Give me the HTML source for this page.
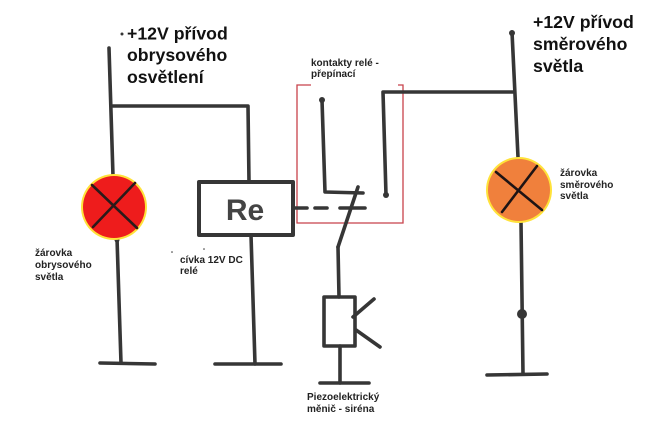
<!DOCTYPE html>
<html><head><meta charset="utf-8"><style>
html,body{margin:0;padding:0;background:#fff;}
svg{display:block;}
text{font-family:"Liberation Sans",Arial,sans-serif;font-weight:bold;}
</style></head><body>
<svg width="651" height="444" viewBox="0 0 651 444" xmlns="http://www.w3.org/2000/svg">
<rect width="651" height="444" fill="#fff"/>
<!-- red contact box -->
<g stroke="#c8424a" stroke-width="1.3" fill="none">
<polyline points="311,85 297,85 297,223 403,223 403,85 398,85"/>
</g>
<g stroke="#363636" stroke-width="3.6" stroke-linecap="round" fill="none" stroke-linejoin="round">
<!-- left supply -->
<line x1="109" y1="48" x2="113" y2="176"/>
<polyline points="113,106 248,106 249,182"/>
<!-- relay box -->
<rect x="199" y="182" width="94" height="53" stroke-width="4"/>
<line x1="251" y1="235" x2="255" y2="364"/>
<line x1="215" y1="364" x2="281" y2="364"/>
<!-- left lamp lower -->
<line x1="117" y1="238" x2="121" y2="363"/>
<line x1="100" y1="363" x2="155" y2="364"/>
<!-- contacts -->
<polyline points="322,100 325,192 363,193"/>
<polyline points="386,195 383,92 513,92"/>
<line x1="512" y1="32" x2="518" y2="157"/>
<!-- dashed -->
<line x1="295" y1="208" x2="307" y2="208"/>
<line x1="315" y1="208" x2="327" y2="208"/>
<line x1="340" y1="208" x2="365" y2="208"/>
<!-- switch arm -->
<line x1="358" y1="187" x2="338" y2="247"/>
<line x1="338" y1="247" x2="339" y2="297"/>
<!-- piezo -->
<rect x="324" y="297" width="31" height="49"/>
<line x1="340" y1="346" x2="340" y2="383"/>
<line x1="320" y1="383" x2="369" y2="383"/>
<line x1="353" y1="317" x2="374" y2="299"/>
<line x1="356" y1="330" x2="380" y2="347"/>
<!-- right lower -->
<line x1="521" y1="222" x2="523" y2="374"/>
<line x1="487" y1="375" x2="547" y2="374"/>
</g>
<g fill="#363636">
<circle cx="322" cy="100" r="3"/>
<circle cx="386" cy="195" r="3"/>
<circle cx="512" cy="33" r="3"/>
<circle cx="522" cy="314" r="5"/>
<circle cx="117" cy="240" r="2.5"/>
<circle cx="122" cy="34" r="1.5"/>
<circle cx="172" cy="252" r="0.8"/>
<circle cx="204" cy="249" r="0.8"/>
</g>
<!-- lamps -->
<circle cx="114" cy="207" r="33" fill="#ffe23a"/>
<circle cx="114" cy="207" r="31" fill="#ee1c1c"/>
<g stroke="#2a1a1a" stroke-width="2.6" stroke-linecap="round">
<line x1="92" y1="185" x2="137" y2="228"/>
<line x1="135" y1="183" x2="93" y2="227"/>
</g>
<circle cx="519" cy="190" r="33" fill="#ffe23a"/>
<circle cx="519" cy="190" r="31" fill="#f0803c"/>
<g stroke="#1e1414" stroke-width="2.6" stroke-linecap="round">
<line x1="496" y1="172" x2="542" y2="210"/>
<line x1="537" y1="166" x2="502" y2="212"/>
</g>
<!-- Re -->
<text x="245" y="220" font-size="30" fill="#444" text-anchor="middle">Re</text>
<!-- big labels -->
<g font-size="17.7" fill="#111">
<text x="127" y="39.5">+12V přívod</text>
<text x="127" y="61">obrysového</text>
<text x="127" y="83">osvětlení</text>
<text x="533" y="28">+12V přívod</text>
<text x="533" y="50">směrového</text>
<text x="533" y="72">světla</text>
</g>
<g font-size="10" fill="#222">
<text x="35" y="256">žárovka</text>
<text x="35" y="268">obrysového</text>
<text x="35" y="280">světla</text>
<text x="180" y="263">cívka 12V DC</text>
<text x="180" y="274">relé</text>
<text x="311" y="66">kontakty relé -</text>
<text x="311" y="77">přepínací</text>
<text x="560" y="176">žárovka</text>
<text x="560" y="188">směrového</text>
<text x="560" y="199">světla</text>
<text x="307" y="400">Piezoelektrický</text>
<text x="307" y="412">měnič - siréna</text>
</g>
</svg>
</body></html>
